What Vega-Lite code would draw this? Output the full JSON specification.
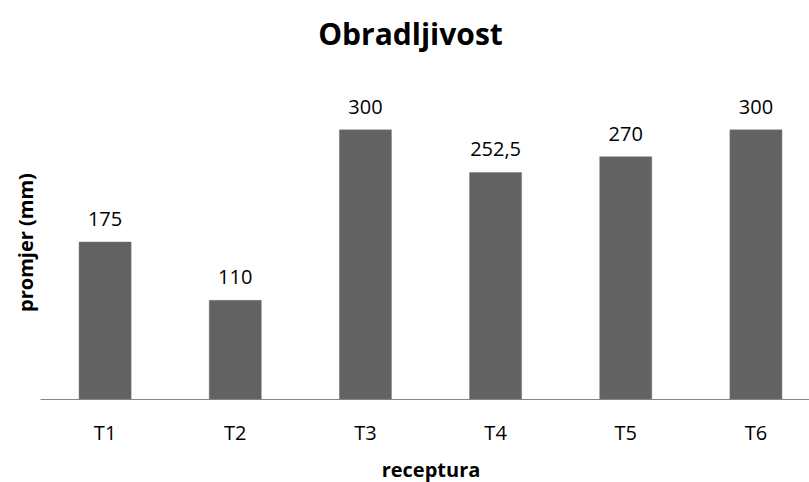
{
  "$schema": "https://vega.github.io/schema/vega-lite/v6.json",
  "width": 781,
  "height": 314,
  "autosize": {"type": "none"},
  "padding": {"left": 40, "top": 85, "right": 0, "bottom": 83},
  "background": "white",
  "config": {
    "view": {"stroke": null},
    "font": "Open Sans",
    "locale": {"number": {"decimal": ",", "thousands": ".", "grouping": [3], "currency": ["", " €"]}}
  },
  "title": {
    "text": "Obradljivost",
    "fontSize": 30,
    "fontWeight": "bold",
    "font": "Open Sans",
    "color": "#000000",
    "anchor": "middle",
    "baseline": "alphabetic",
    "dx": -20,
    "offset": 10
  },
  "data": {
    "values": [
      {"receptura": "T1", "promjer": 175},
      {"receptura": "T2", "promjer": 110},
      {"receptura": "T3", "promjer": 300},
      {"receptura": "T4", "promjer": 252.5},
      {"receptura": "T5", "promjer": 270},
      {"receptura": "T6", "promjer": 300}
    ]
  },
  "encoding": {
    "x": {
      "field": "receptura",
      "type": "nominal",
      "sort": null,
      "scale": {"paddingInner": 0.6, "paddingOuter": 0.3},
      "axis": {
        "title": "receptura",
        "titleFontSize": 20,
        "titleFontWeight": "bold",
        "titleColor": "#000000",
        "titleBaseline": "alphabetic",
        "titleY": 77,
        "labelAngle": 0,
        "labelFontSize": 20,
        "labelColor": "#000000",
        "labelBaseline": "alphabetic",
        "labelPadding": 40,
        "ticks": false,
        "domainColor": "#868686",
        "domainWidth": 1,
        "grid": false
      }
    },
    "y": {
      "field": "promjer",
      "type": "quantitative",
      "scale": {"domain": [0, 350]},
      "axis": {
        "title": "promjer (mm)",
        "titleFontSize": 20,
        "titleFontWeight": "bold",
        "titleColor": "#000000",
        "titleBaseline": "alphabetic",
        "titleX": -8,
        "titleY": 157,
        "labels": false,
        "ticks": false,
        "domain": false,
        "grid": false
      }
    }
  },
  "layer": [
    {"mark": {"type": "bar", "color": "#626262", "stroke": "#7a7a7a", "strokeWidth": 0.5}},
    {
      "mark": {"type": "text", "baseline": "alphabetic", "dy": -16, "fontSize": 20, "color": "#000000", "font": "Open Sans"},
      "encoding": {"text": {"field": "promjer", "type": "quantitative", "format": "~f"}}
    }
  ]
}
